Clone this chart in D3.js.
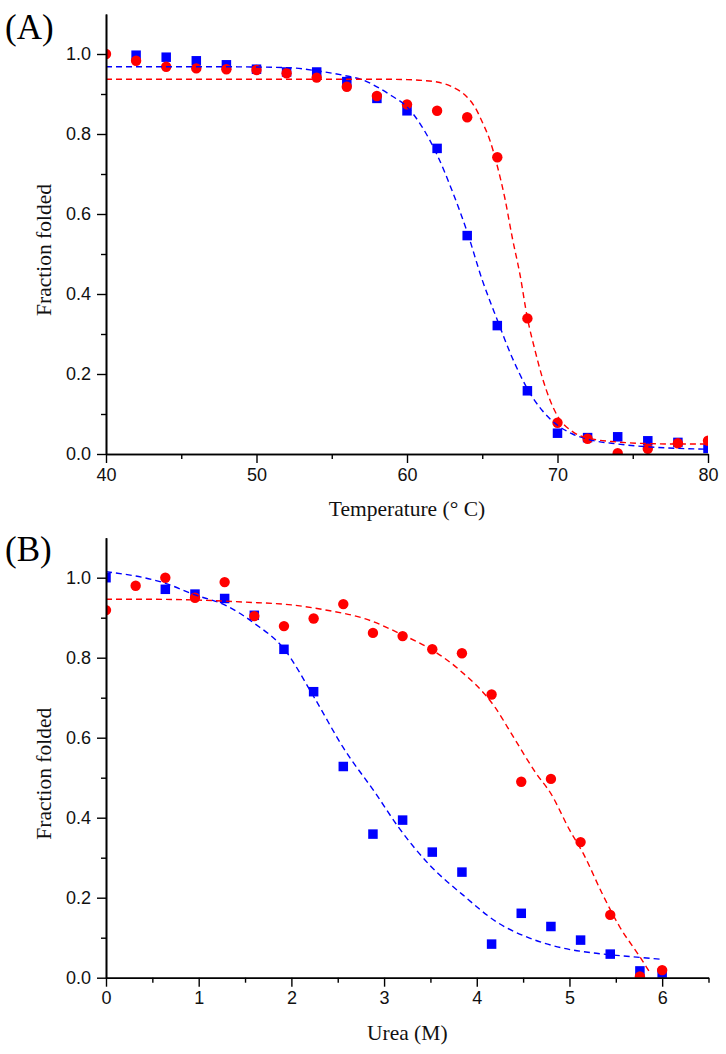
<!DOCTYPE html>
<html>
<head>
<meta charset="utf-8">
<script src="https://cdn.jsdelivr.net/npm/d3@7"></script>
<style>
  html, body { margin: 0; padding: 0; background: #fff; }
  svg { display: block; }
</style>
</head>
<body>
<svg id="chart" width="726" height="1054"></svg>
<script>
// ---------- Panel A data (thermal denaturation) ----------
const tempBlueA = [42,44,46,48,50,52,54,56,58,60,62,64,66,68,70,72,74,76,78,80];
const valBlueA  = [0.997,0.992,0.983,0.973,0.962,0.955,0.955,0.931,0.889,0.858,0.764,0.546,0.321,0.158,0.052,0.041,0.043,0.033,0.029,0.014];
const tempRedA  = [40,42,44,46,48,50,52,54,56,58,60,62,64,66,68,70,72,74,76,78,80];
const valRedA   = [1.0,0.983,0.968,0.964,0.962,0.960,0.952,0.941,0.918,0.895,0.874,0.858,0.842,0.742,0.339,0.078,0.038,0.002,0.013,0.027,0.033];
const fitTempBlueA = [40,44,48,52,54,56,57,58,59,60,61,62,63,64,65,66,67,68,69,70,71,72,74,76,78,80];
const fitBlueA     = [0.968,0.968,0.968,0.966,0.958,0.945,0.936,0.918,0.895,0.868,0.818,0.748,0.658,0.555,0.435,0.335,0.240,0.163,0.108,0.072,0.050,0.037,0.025,0.018,0.014,0.012];
const fitTempRedA  = [40,50,58,60,61,62,63,64,64.5,65,65.5,66,66.5,67,67.5,68,68.5,69,69.5,70,71,72,74,76,78,80];
const fitRedA      = [0.937,0.937,0.937,0.936,0.934,0.930,0.918,0.892,0.868,0.830,0.785,0.720,0.640,0.540,0.450,0.340,0.260,0.190,0.135,0.095,0.056,0.040,0.030,0.026,0.025,0.025];
const xTicksA = [40,50,60,70,80];
const xMinorA = [45,55,65,75];

// ---------- Panel B data (urea denaturation) ----------
const ureaBlueB = [0,0.64,0.96,1.28,1.6,1.92,2.24,2.56,2.88,3.2,3.52,3.84,4.16,4.48,4.8,5.12,5.44,5.76,6.0];
const valBlueB  = [1.0,0.971,0.959,0.948,0.906,0.821,0.715,0.528,0.359,0.394,0.314,0.264,0.084,0.161,0.128,0.094,0.059,0.017,0.011];
const ureaRedB  = [0,0.32,0.64,0.96,1.28,1.6,1.92,2.24,2.56,2.88,3.2,3.52,3.84,4.16,4.48,4.8,5.12,5.44,5.76,6.0];
const valRedB   = [0.919,0.980,1.0,0.950,0.989,0.904,0.879,0.898,0.934,0.862,0.854,0.821,0.811,0.708,0.490,0.497,0.339,0.157,0.003,0.019];
const fitUreaBlueB = [0,0.64,0.96,1.28,1.6,1.92,2.24,2.56,2.92,3.15,3.49,3.85,4.21,4.57,4.93,5.29,5.65,6.0];
const fitBlueB     = [1.015,0.986,0.957,0.932,0.886,0.822,0.703,0.575,0.457,0.378,0.282,0.207,0.140,0.099,0.074,0.061,0.053,0.046];
const fitUreaRedB  = [0,0.5,1.0,1.5,2.0,2.4,2.8,3.2,3.5,3.8,4.2,4.4,4.64,4.8,5.0,5.15,5.36,5.54,5.76,5.87];
const fitRedB      = [0.946,0.946,0.944,0.939,0.932,0.918,0.897,0.857,0.822,0.772,0.675,0.600,0.511,0.460,0.370,0.310,0.207,0.128,0.052,0.012];
const xTicksB = [0,1,2,3,4,5,6];
const xMinorB = [0.5,1.5,2.5,3.5,4.5,5.5,6.5];

// ---------- shared ----------
const yTicks = [0,0.2,0.4,0.6,0.8,1.0];
const yMinor = [0.1,0.3,0.5,0.7,0.9];
const panelLabels = ["(A)","(B)"];
const xTitles = ["Temperature (\u00B0 C)","Urea (M)"];
const yTitle = "Fraction folded";

const BLUE = "#0000ff", RED = "#ff0000";
const svg = d3.select("#chart");
svg.append("rect").attr("width",726).attr("height",1054).attr("fill","#fff");

function drawPanel(cfg, idx) {
  const x = d3.scaleLinear().domain(cfg.xDomain).range([cfg.left, cfg.right]);
  const y = d3.scaleLinear().domain([0, 1.1]).range([cfg.bottom, cfg.top]);
  const g = svg.append("g");

  const clipId = "clip" + idx;
  svg.append("clipPath").attr("id", clipId).append("rect")
    .attr("x", cfg.left).attr("y", cfg.top)
    .attr("width", cfg.right - cfg.left).attr("height", cfg.bottom - cfg.top);

  const plot = g.append("g").attr("clip-path", `url(#${clipId})`);

  // markers
  const sq = 9.5;
  plot.selectAll(".sq").data(cfg.blueX.map((d,i)=>[d,cfg.blueY[i]])).enter()
    .append("rect")
    .attr("x", d => x(d[0]) - sq/2).attr("y", d => y(d[1]) - sq/2)
    .attr("width", sq).attr("height", sq).attr("fill", BLUE);
  plot.selectAll(".ci").data(cfg.redX.map((d,i)=>[d,cfg.redY[i]])).enter()
    .append("circle")
    .attr("cx", d => x(d[0])).attr("cy", d => y(d[1])).attr("r", 5.2)
    .attr("fill", RED);

  // fit lines
  const line = d3.line().x(d => x(d[0])).y(d => y(d[1])).curve(d3.curveMonotoneX);
  plot.append("path").datum(cfg.fitBX.map((d,i)=>[d,cfg.fitBY[i]]))
    .attr("d", line).attr("fill","none").attr("stroke", BLUE)
    .attr("stroke-width", 1.4).attr("stroke-dasharray", "6,4");
  plot.append("path").datum(cfg.fitRX.map((d,i)=>[d,cfg.fitRY[i]]))
    .attr("d", line).attr("fill","none").attr("stroke", RED)
    .attr("stroke-width", 1.4).attr("stroke-dasharray", "6,4");

  // axes
  const xAxis = d3.axisBottom(x).tickValues(cfg.xTicks).tickSize(9).tickSizeOuter(0)
    .tickPadding(5).tickFormat(d3.format("d"));
  const xMinorAxis = d3.axisBottom(x).tickValues(cfg.xMinor).tickSize(5).tickSizeOuter(0).tickFormat("");
  const yAxis = d3.axisLeft(y).tickValues(yTicks).tickSize(9).tickSizeOuter(0)
    .tickPadding(6).tickFormat(d3.format(".1f"));
  const yMinorAxis = d3.axisLeft(y).tickValues(yMinor).tickSize(5).tickSizeOuter(0).tickFormat("");

  const axes = [
    g.append("g").attr("transform", `translate(0,${cfg.bottom})`).call(xMinorAxis),
    g.append("g").attr("transform", `translate(0,${cfg.bottom})`).call(xAxis),
    g.append("g").attr("transform", `translate(${cfg.left},0)`).call(yMinorAxis),
    g.append("g").attr("transform", `translate(${cfg.left},0)`).call(yAxis)
  ];
  axes.forEach(a => {
    a.selectAll("path.domain").attr("stroke","#000").attr("stroke-width",1.6);
    a.selectAll(".tick line").attr("stroke","#000").attr("stroke-width",1.4);
    a.selectAll(".tick text").attr("fill","#111")
      .style("font-family","'Liberation Sans', Arial, sans-serif").style("font-size","18px");
  });

  // titles
  g.append("text").attr("x", (cfg.left + cfg.right)/2).attr("y", cfg.bottom + 62)
    .attr("text-anchor","middle")
    .style("font-family","'Liberation Serif','Times New Roman',serif").style("font-size","21.5px")
    .attr("fill","#111").text(xTitles[idx]);
  g.append("text")
    .attr("transform", `translate(${51},${(cfg.top + cfg.bottom)/2 + 16}) rotate(-90)`)
    .attr("text-anchor","middle")
    .style("font-family","'Liberation Serif','Times New Roman',serif").style("font-size","21.5px")
    .attr("fill","#111").text(yTitle);
  g.append("text").attr("x", 5).attr("y", cfg.labelY)
    .style("font-family","'Liberation Serif','Times New Roman',serif").style("font-size","35px")
    .attr("fill","#000").text(panelLabels[idx]);
}

drawPanel({
  xDomain:[40,80], left:106, right:708, top:14, bottom:454, labelY:39,
  blueX:tempBlueA, blueY:valBlueA, redX:tempRedA, redY:valRedA,
  fitBX:fitTempBlueA, fitBY:fitBlueA, fitRX:fitTempRedA, fitRY:fitRedA,
  xTicks:xTicksA, xMinor:xMinorA
}, 0);

drawPanel({
  xDomain:[0,6.5], left:106, right:708.5, top:537.7, bottom:977.7, labelY:561,
  blueX:ureaBlueB, blueY:valBlueB, redX:ureaRedB, redY:valRedB,
  fitBX:fitUreaBlueB, fitBY:fitBlueB, fitRX:fitUreaRedB, fitRY:fitRedB,
  xTicks:xTicksB, xMinor:xMinorB
}, 1);
</script>
</body>
</html>
